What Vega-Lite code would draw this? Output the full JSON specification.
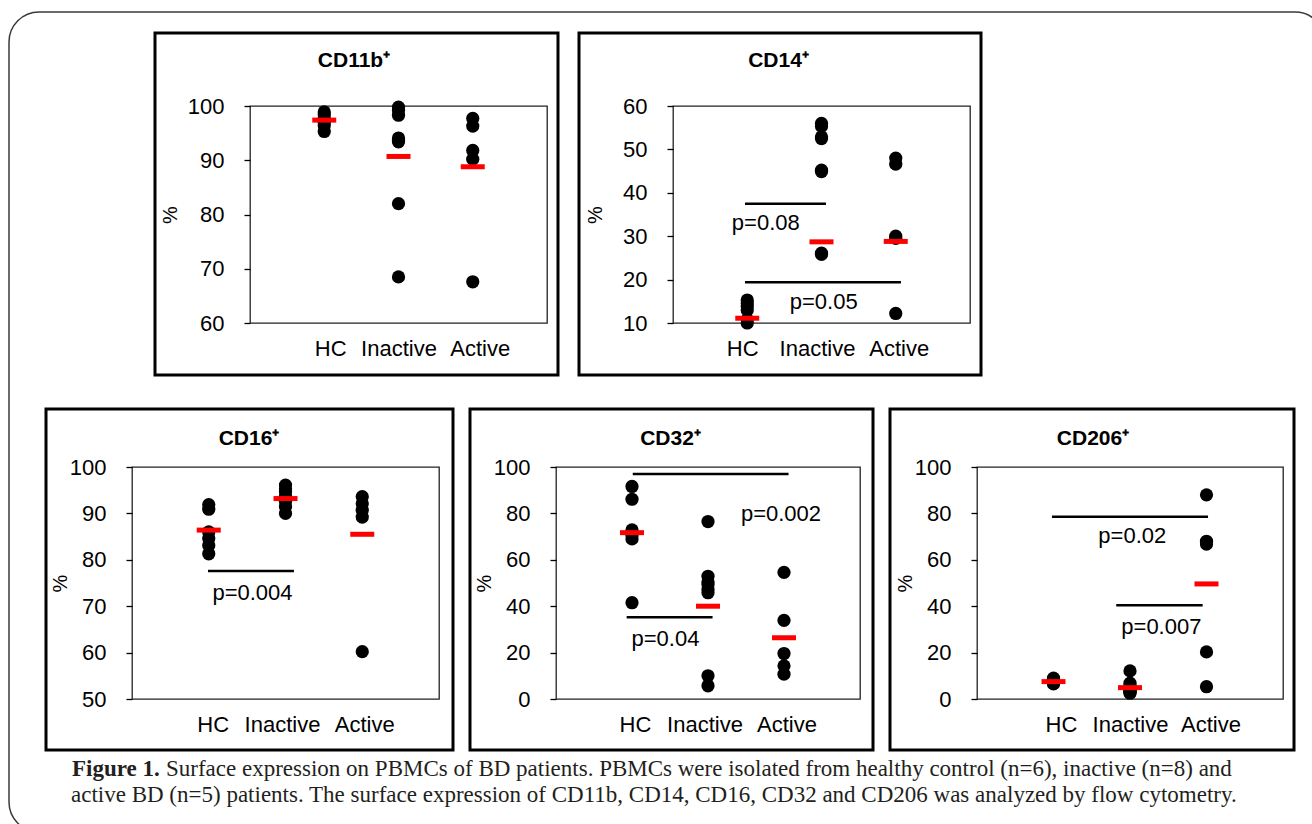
{
  "$schema": "https://vega.github.io/schema/vega-lite/v6.json",
  "background": "white",
  "padding": {"left": 8, "top": 11, "right": 0, "bottom": 0},
  "bounds": "flush",
  "spacing": 361,
  "datasets": {
    "points": [
      {"panel": "CD11b", "group": "HC", "g": 1, "value": 98.9},
      {"panel": "CD11b", "group": "HC", "g": 1, "value": 98.4},
      {"panel": "CD11b", "group": "HC", "g": 1, "value": 97.7},
      {"panel": "CD11b", "group": "HC", "g": 1, "value": 97.0},
      {"panel": "CD11b", "group": "HC", "g": 1, "value": 96.4},
      {"panel": "CD11b", "group": "HC", "g": 1, "value": 95.3},
      {"panel": "CD11b", "group": "Inactive", "g": 2, "value": 99.8},
      {"panel": "CD11b", "group": "Inactive", "g": 2, "value": 99.2},
      {"panel": "CD11b", "group": "Inactive", "g": 2, "value": 98.3},
      {"panel": "CD11b", "group": "Inactive", "g": 2, "value": 94.1},
      {"panel": "CD11b", "group": "Inactive", "g": 2, "value": 93.7},
      {"panel": "CD11b", "group": "Inactive", "g": 2, "value": 93.4},
      {"panel": "CD11b", "group": "Inactive", "g": 2, "value": 82.0},
      {"panel": "CD11b", "group": "Inactive", "g": 2, "value": 68.5},
      {"panel": "CD11b", "group": "Active", "g": 3, "value": 97.7},
      {"panel": "CD11b", "group": "Active", "g": 3, "value": 96.3},
      {"panel": "CD11b", "group": "Active", "g": 3, "value": 91.8},
      {"panel": "CD11b", "group": "Active", "g": 3, "value": 90.2},
      {"panel": "CD11b", "group": "Active", "g": 3, "value": 67.6},
      {"panel": "CD14", "group": "HC", "g": 1, "value": 15.3},
      {"panel": "CD14", "group": "HC", "g": 1, "value": 14.6},
      {"panel": "CD14", "group": "HC", "g": 1, "value": 13.8},
      {"panel": "CD14", "group": "HC", "g": 1, "value": 13.0},
      {"panel": "CD14", "group": "HC", "g": 1, "value": 10.8},
      {"panel": "CD14", "group": "HC", "g": 1, "value": 10.0},
      {"panel": "CD14", "group": "Inactive", "g": 2, "value": 56.0},
      {"panel": "CD14", "group": "Inactive", "g": 2, "value": 55.3},
      {"panel": "CD14", "group": "Inactive", "g": 2, "value": 52.9},
      {"panel": "CD14", "group": "Inactive", "g": 2, "value": 52.5},
      {"panel": "CD14", "group": "Inactive", "g": 2, "value": 45.2},
      {"panel": "CD14", "group": "Inactive", "g": 2, "value": 44.9},
      {"panel": "CD14", "group": "Inactive", "g": 2, "value": 26.1},
      {"panel": "CD14", "group": "Inactive", "g": 2, "value": 25.8},
      {"panel": "CD14", "group": "Active", "g": 3, "value": 48.0},
      {"panel": "CD14", "group": "Active", "g": 3, "value": 46.6},
      {"panel": "CD14", "group": "Active", "g": 3, "value": 30.0},
      {"panel": "CD14", "group": "Active", "g": 3, "value": 29.5},
      {"panel": "CD14", "group": "Active", "g": 3, "value": 12.2},
      {"panel": "CD16", "group": "HC", "g": 1, "value": 91.9},
      {"panel": "CD16", "group": "HC", "g": 1, "value": 90.9},
      {"panel": "CD16", "group": "HC", "g": 1, "value": 86.0},
      {"panel": "CD16", "group": "HC", "g": 1, "value": 84.6},
      {"panel": "CD16", "group": "HC", "g": 1, "value": 83.1},
      {"panel": "CD16", "group": "HC", "g": 1, "value": 81.3},
      {"panel": "CD16", "group": "Inactive", "g": 2, "value": 96.1},
      {"panel": "CD16", "group": "Inactive", "g": 2, "value": 95.3},
      {"panel": "CD16", "group": "Inactive", "g": 2, "value": 94.7},
      {"panel": "CD16", "group": "Inactive", "g": 2, "value": 93.8},
      {"panel": "CD16", "group": "Inactive", "g": 2, "value": 93.2},
      {"panel": "CD16", "group": "Inactive", "g": 2, "value": 92.6},
      {"panel": "CD16", "group": "Inactive", "g": 2, "value": 91.5},
      {"panel": "CD16", "group": "Inactive", "g": 2, "value": 90.0},
      {"panel": "CD16", "group": "Active", "g": 3, "value": 93.6},
      {"panel": "CD16", "group": "Active", "g": 3, "value": 92.1},
      {"panel": "CD16", "group": "Active", "g": 3, "value": 90.7},
      {"panel": "CD16", "group": "Active", "g": 3, "value": 89.2},
      {"panel": "CD16", "group": "Active", "g": 3, "value": 60.2},
      {"panel": "CD32", "group": "HC", "g": 1, "value": 91.6},
      {"panel": "CD32", "group": "HC", "g": 1, "value": 86.1},
      {"panel": "CD32", "group": "HC", "g": 1, "value": 72.9},
      {"panel": "CD32", "group": "HC", "g": 1, "value": 70.5},
      {"panel": "CD32", "group": "HC", "g": 1, "value": 69.0},
      {"panel": "CD32", "group": "HC", "g": 1, "value": 41.5},
      {"panel": "CD32", "group": "Inactive", "g": 2, "value": 76.5},
      {"panel": "CD32", "group": "Inactive", "g": 2, "value": 52.9},
      {"panel": "CD32", "group": "Inactive", "g": 2, "value": 50.5},
      {"panel": "CD32", "group": "Inactive", "g": 2, "value": 49.4},
      {"panel": "CD32", "group": "Inactive", "g": 2, "value": 47.2},
      {"panel": "CD32", "group": "Inactive", "g": 2, "value": 45.8},
      {"panel": "CD32", "group": "Inactive", "g": 2, "value": 10.0},
      {"panel": "CD32", "group": "Inactive", "g": 2, "value": 5.7},
      {"panel": "CD32", "group": "Active", "g": 3, "value": 54.6},
      {"panel": "CD32", "group": "Active", "g": 3, "value": 33.9},
      {"panel": "CD32", "group": "Active", "g": 3, "value": 19.6},
      {"panel": "CD32", "group": "Active", "g": 3, "value": 14.3},
      {"panel": "CD32", "group": "Active", "g": 3, "value": 10.7},
      {"panel": "CD206", "group": "HC", "g": 1, "value": 9.0},
      {"panel": "CD206", "group": "HC", "g": 1, "value": 8.5},
      {"panel": "CD206", "group": "HC", "g": 1, "value": 8.0},
      {"panel": "CD206", "group": "HC", "g": 1, "value": 7.5},
      {"panel": "CD206", "group": "HC", "g": 1, "value": 7.0},
      {"panel": "CD206", "group": "HC", "g": 1, "value": 6.5},
      {"panel": "CD206", "group": "Inactive", "g": 2, "value": 12.1},
      {"panel": "CD206", "group": "Inactive", "g": 2, "value": 6.8},
      {"panel": "CD206", "group": "Inactive", "g": 2, "value": 5.5},
      {"panel": "CD206", "group": "Inactive", "g": 2, "value": 4.5},
      {"panel": "CD206", "group": "Inactive", "g": 2, "value": 3.8},
      {"panel": "CD206", "group": "Inactive", "g": 2, "value": 3.2},
      {"panel": "CD206", "group": "Inactive", "g": 2, "value": 2.9},
      {"panel": "CD206", "group": "Inactive", "g": 2, "value": 2.5},
      {"panel": "CD206", "group": "Active", "g": 3, "value": 88.0},
      {"panel": "CD206", "group": "Active", "g": 3, "value": 68.0},
      {"panel": "CD206", "group": "Active", "g": 3, "value": 66.8},
      {"panel": "CD206", "group": "Active", "g": 3, "value": 20.3},
      {"panel": "CD206", "group": "Active", "g": 3, "value": 5.3}
    ],
    "means": [
      {"panel": "CD11b", "group": "HC", "g": 1, "value": 97.4},
      {"panel": "CD11b", "group": "Inactive", "g": 2, "value": 90.7},
      {"panel": "CD11b", "group": "Active", "g": 3, "value": 88.8},
      {"panel": "CD14", "group": "HC", "g": 1, "value": 11.1},
      {"panel": "CD14", "group": "Inactive", "g": 2, "value": 28.7},
      {"panel": "CD14", "group": "Active", "g": 3, "value": 28.8},
      {"panel": "CD16", "group": "HC", "g": 1, "value": 86.4},
      {"panel": "CD16", "group": "Inactive", "g": 2, "value": 93.2},
      {"panel": "CD16", "group": "Active", "g": 3, "value": 85.5},
      {"panel": "CD32", "group": "HC", "g": 1, "value": 71.7},
      {"panel": "CD32", "group": "Inactive", "g": 2, "value": 40.0},
      {"panel": "CD32", "group": "Active", "g": 3, "value": 26.4},
      {"panel": "CD206", "group": "HC", "g": 1, "value": 7.5},
      {"panel": "CD206", "group": "Inactive", "g": 2, "value": 4.9},
      {"panel": "CD206", "group": "Active", "g": 3, "value": 49.6}
    ],
    "bars": [
      {"panel": "CD14", "x1": 0.97, "x2": 2.06, "y": 37.5},
      {"panel": "CD14", "x1": 0.97, "x2": 3.07, "y": 19.4},
      {"panel": "CD16", "x1": 0.99, "x2": 2.11, "y": 77.6},
      {"panel": "CD32", "x1": 1.01, "x2": 3.06, "y": 97.0},
      {"panel": "CD32", "x1": 0.93, "x2": 2.06, "y": 35.2},
      {"panel": "CD206", "x1": 0.98, "x2": 3.02, "y": 78.6},
      {"panel": "CD206", "x1": 1.82, "x2": 2.95, "y": 40.4}
    ],
    "labels": [
      {"panel": "CD14", "x": 1.25, "y": 33.1, "label": "p=0.08"},
      {"panel": "CD14", "x": 2.03, "y": 14.9, "label": "p=0.05"},
      {"panel": "CD16", "x": 1.57, "y": 72.8, "label": "p=0.004"},
      {"panel": "CD32", "x": 2.96, "y": 79.6, "label": "p=0.002"},
      {"panel": "CD32", "x": 1.44, "y": 25.7, "label": "p=0.04"},
      {"panel": "CD206", "x": 2.03, "y": 70.4, "label": "p=0.02"},
      {"panel": "CD206", "x": 2.41, "y": 31.2, "label": "p=0.007"}
    ]
  },
  "vconcat": [
    {
      "bounds": "full",
      "spacing": 15,
      "hconcat": [
        {"width": 5, "height": 10, "data": {"values": []}, "mark": "point"},
        {
          "width": 297, "height": 217,
          "view": {"stroke": "#222", "strokeWidth": 1.3},
          "title": {"text": "CD11b⁺", "dx": -44.5, "offset": -39.5},
          "layer": [
            {"data": {"values": [{}]},
             "mark": {"type": "rect", "fill": "transparent", "stroke": "#000", "strokeWidth": 3},
             "encoding": {
               "x": {"datum": -1.2795, "type": "quantitative", "scale": {"domain": [0, 4], "nice": false, "zero": false},
                     "axis": {"values": [1, 2, 3], "labelExpr": "datum.value == 1 ? 'HC' : datum.value == 2 ? 'Inactive' : 'Active'", "title": null,
                              "labelOffset": {"condition": [{"test": "datum.value == 1", "value": 6}, {"test": "datum.value == 3", "value": 7}], "value": 0}}},
               "x2": {"datum": 4.1481},
               "y": {"datum": 113.456, "type": "quantitative", "scale": {"domain": [60, 100], "nice": false, "zero": false},
                     "axis": {"values": [60, 70, 80, 90, 100], "title": "%", "titleX": -80, "titleY": 108.5}},
               "y2": {"datum": 50.415}}},
            {"data": {"name": "points"}, "transform": [{"filter": "datum.panel === 'CD11b'"}],
             "mark": {"type": "circle", "size": 175, "color": "#000", "opacity": 1},
             "encoding": {"x": {"field": "g", "type": "quantitative"}, "y": {"field": "value", "type": "quantitative"}}},
            {"data": {"name": "means"}, "transform": [{"filter": "datum.panel === 'CD11b'"}],
             "mark": {"type": "tick", "orient": "horizontal", "size": 24, "thickness": 5, "color": "#ff0000", "opacity": 1},
             "encoding": {"x": {"field": "g", "type": "quantitative"}, "y": {"field": "value", "type": "quantitative"}}}
          ]
        },
        {
          "width": 297, "height": 217,
          "view": {"stroke": "#222", "strokeWidth": 1.3},
          "title": {"text": "CD14⁺", "dx": -43, "offset": -39.5},
          "layer": [
            {"data": {"values": [{}]},
             "mark": {"type": "rect", "fill": "transparent", "stroke": "#000", "strokeWidth": 3},
             "encoding": {
               "x": {"datum": -1.266, "type": "quantitative", "scale": {"domain": [0, 4], "nice": false, "zero": false},
                     "axis": {"values": [1, 2, 3], "labelExpr": "datum.value == 1 ? 'HC' : datum.value == 2 ? 'Inactive' : 'Active'", "title": null,
                              "labelOffset": {"condition": [{"test": "datum.value == 1", "value": -5}, {"test": "datum.value == 2", "value": -4.5}], "value": 3}}},
               "x2": {"datum": 4.1481},
               "y": {"datum": 76.82, "type": "quantitative", "scale": {"domain": [10, 60], "nice": false, "zero": false},
                     "axis": {"values": [10, 20, 30, 40, 50, 60], "title": "%", "titleX": -78, "titleY": 108.5}},
               "y2": {"datum": -1.982}}},
            {"data": {"name": "points"}, "transform": [{"filter": "datum.panel === 'CD14'"}],
             "mark": {"type": "circle", "size": 175, "color": "#000", "opacity": 1},
             "encoding": {"x": {"field": "g", "type": "quantitative"}, "y": {"field": "value", "type": "quantitative"}}},
            {"data": {"name": "means"}, "transform": [{"filter": "datum.panel === 'CD14'"}],
             "mark": {"type": "tick", "orient": "horizontal", "size": 24, "thickness": 5, "color": "#ff0000", "opacity": 1},
             "encoding": {"x": {"field": "g", "type": "quantitative"}, "y": {"field": "value", "type": "quantitative"}}},
            {"data": {"name": "bars"}, "transform": [{"filter": "datum.panel === 'CD14'"}],
             "mark": {"type": "rule", "strokeWidth": 2.5, "color": "#000"},
             "encoding": {"x": {"field": "x1", "type": "quantitative"}, "x2": {"field": "x2"}, "y": {"field": "y", "type": "quantitative"}}},
            {"data": {"name": "labels"}, "transform": [{"filter": "datum.panel === 'CD14'"}],
             "mark": {"type": "text", "font": "Liberation Sans", "fontSize": 22, "color": "#000", "align": "center", "baseline": "middle"},
             "encoding": {"x": {"field": "x", "type": "quantitative"}, "y": {"field": "y", "type": "quantitative"}, "text": {"field": "label"}}}
          ]
        }
      ]
    },
    {
      "bounds": "full",
      "spacing": 11,
      "hconcat": [
        {
          "width": 307, "height": 232,
          "view": {"stroke": "#222", "strokeWidth": 1.3},
          "title": {"text": "CD16⁺", "dx": -36.5, "offset": -41},
          "layer": [
            {"data": {"values": [{}]},
             "mark": {"type": "rect", "fill": "transparent", "stroke": "#000", "strokeWidth": 3},
             "encoding": {
               "x": {"datum": -1.1205, "type": "quantitative", "scale": {"domain": [0, 4], "nice": false, "zero": false},
                     "axis": {"values": [1, 2, 3], "labelExpr": "datum.value == 1 ? 'HC' : datum.value == 2 ? 'Inactive' : 'Active'", "title": null,
                              "labelOffset": {"condition": [{"test": "datum.value == 1", "value": 4}, {"test": "datum.value == 2", "value": -3.5}], "value": 2}}},
               "x2": {"datum": 4.1824},
               "y": {"datum": 112.5, "type": "quantitative", "scale": {"domain": [50, 100], "nice": false, "zero": false},
                     "axis": {"values": [50, 60, 70, 80, 90, 100], "title": "%", "titleX": -72, "titleY": 116}},
               "y2": {"datum": 39.009}}},
            {"data": {"name": "points"}, "transform": [{"filter": "datum.panel === 'CD16'"}],
             "mark": {"type": "circle", "size": 175, "color": "#000", "opacity": 1},
             "encoding": {"x": {"field": "g", "type": "quantitative"}, "y": {"field": "value", "type": "quantitative"}}},
            {"data": {"name": "means"}, "transform": [{"filter": "datum.panel === 'CD16'"}],
             "mark": {"type": "tick", "orient": "horizontal", "size": 24, "thickness": 5, "color": "#ff0000", "opacity": 1},
             "encoding": {"x": {"field": "g", "type": "quantitative"}, "y": {"field": "value", "type": "quantitative"}}},
            {"data": {"name": "bars"}, "transform": [{"filter": "datum.panel === 'CD16'"}],
             "mark": {"type": "rule", "strokeWidth": 2.5, "color": "#000"},
             "encoding": {"x": {"field": "x1", "type": "quantitative"}, "x2": {"field": "x2"}, "y": {"field": "y", "type": "quantitative"}}},
            {"data": {"name": "labels"}, "transform": [{"filter": "datum.panel === 'CD16'"}],
             "mark": {"type": "text", "font": "Liberation Sans", "fontSize": 22, "color": "#000", "align": "center", "baseline": "middle"},
             "encoding": {"x": {"field": "x", "type": "quantitative"}, "y": {"field": "y", "type": "quantitative"}, "text": {"field": "label"}}}
          ]
        },
        {
          "width": 304, "height": 232,
          "view": {"stroke": "#222", "strokeWidth": 1.3},
          "title": {"text": "CD32⁺", "dx": -37.5, "offset": -41},
          "layer": [
            {"data": {"values": [{}]},
             "mark": {"type": "rect", "fill": "transparent", "stroke": "#000", "strokeWidth": 3},
             "encoding": {
               "x": {"datum": -1.1316, "type": "quantitative", "scale": {"domain": [0, 4], "nice": false, "zero": false},
                     "axis": {"values": [1, 2, 3], "labelExpr": "datum.value == 1 ? 'HC' : datum.value == 2 ? 'Inactive' : 'Active'", "title": null,
                              "labelOffset": {"condition": [{"test": "datum.value == 1", "value": 3}, {"test": "datum.value == 2", "value": -3.5}], "value": 2.5}}},
               "x2": {"datum": 4.1711},
               "y": {"datum": 125, "type": "quantitative", "scale": {"domain": [0, 100], "nice": false, "zero": false},
                     "axis": {"values": [0, 20, 40, 60, 80, 100], "title": "%", "titleX": -72, "titleY": 116}},
               "y2": {"datum": -21.983}}},
            {"data": {"name": "points"}, "transform": [{"filter": "datum.panel === 'CD32'"}],
             "mark": {"type": "circle", "size": 175, "color": "#000", "opacity": 1},
             "encoding": {"x": {"field": "g", "type": "quantitative"}, "y": {"field": "value", "type": "quantitative"}}},
            {"data": {"name": "means"}, "transform": [{"filter": "datum.panel === 'CD32'"}],
             "mark": {"type": "tick", "orient": "horizontal", "size": 24, "thickness": 5, "color": "#ff0000", "opacity": 1},
             "encoding": {"x": {"field": "g", "type": "quantitative"}, "y": {"field": "value", "type": "quantitative"}}},
            {"data": {"name": "bars"}, "transform": [{"filter": "datum.panel === 'CD32'"}],
             "mark": {"type": "rule", "strokeWidth": 2.5, "color": "#000"},
             "encoding": {"x": {"field": "x1", "type": "quantitative"}, "x2": {"field": "x2"}, "y": {"field": "y", "type": "quantitative"}}},
            {"data": {"name": "labels"}, "transform": [{"filter": "datum.panel === 'CD32'"}],
             "mark": {"type": "text", "font": "Liberation Sans", "fontSize": 22, "color": "#000", "align": "center", "baseline": "middle"},
             "encoding": {"x": {"field": "x", "type": "quantitative"}, "y": {"field": "y", "type": "quantitative"}, "text": {"field": "label"}}}
          ]
        },
        {
          "width": 306, "height": 232,
          "view": {"stroke": "#222", "strokeWidth": 1.3},
          "title": {"text": "CD206⁺", "dx": -37, "offset": -41},
          "layer": [
            {"data": {"values": [{}]},
             "mark": {"type": "rect", "fill": "transparent", "stroke": "#000", "strokeWidth": 3},
             "encoding": {
               "x": {"datum": -1.1373, "type": "quantitative", "scale": {"domain": [0, 4], "nice": false, "zero": false},
                     "axis": {"values": [1, 2, 3], "labelExpr": "datum.value == 1 ? 'HC' : datum.value == 2 ? 'Inactive' : 'Active'", "title": null,
                              "labelOffset": {"condition": [{"test": "datum.value == 1", "value": 7.5}, {"test": "datum.value == 3", "value": 4}], "value": 0}}},
               "x2": {"datum": 4.1438},
               "y": {"datum": 125, "type": "quantitative", "scale": {"domain": [0, 100], "nice": false, "zero": false},
                     "axis": {"values": [0, 20, 40, 60, 80, 100], "title": "%", "titleX": -72, "titleY": 116}},
               "y2": {"datum": -21.983}}},
            {"data": {"name": "points"}, "transform": [{"filter": "datum.panel === 'CD206'"}],
             "mark": {"type": "circle", "size": 175, "color": "#000", "opacity": 1},
             "encoding": {"x": {"field": "g", "type": "quantitative"}, "y": {"field": "value", "type": "quantitative"}}},
            {"data": {"name": "means"}, "transform": [{"filter": "datum.panel === 'CD206'"}],
             "mark": {"type": "tick", "orient": "horizontal", "size": 24, "thickness": 5, "color": "#ff0000", "opacity": 1},
             "encoding": {"x": {"field": "g", "type": "quantitative"}, "y": {"field": "value", "type": "quantitative"}}},
            {"data": {"name": "bars"}, "transform": [{"filter": "datum.panel === 'CD206'"}],
             "mark": {"type": "rule", "strokeWidth": 2.5, "color": "#000"},
             "encoding": {"x": {"field": "x1", "type": "quantitative"}, "x2": {"field": "x2"}, "y": {"field": "y", "type": "quantitative"}}},
            {"data": {"name": "labels"}, "transform": [{"filter": "datum.panel === 'CD206'"}],
             "mark": {"type": "text", "font": "Liberation Sans", "fontSize": 22, "color": "#000", "align": "center", "baseline": "middle"},
             "encoding": {"x": {"field": "x", "type": "quantitative"}, "y": {"field": "y", "type": "quantitative"}, "text": {"field": "label"}}}
          ]
        }
      ]
    },
    {
      "width": 1151, "height": 10,
      "data": {"values": [{}]},
      "layer": [
        {"mark": {"type": "rect", "fill": "transparent", "stroke": "#3a3a3a", "strokeWidth": 1.5, "cornerRadius": 30},
         "encoding": {
           "x": {"datum": 9, "type": "quantitative", "scale": {"domain": [132, 1283], "nice": false, "zero": false}, "axis": null},
           "x2": {"datum": 1325},
           "y": {"datum": 12, "type": "quantitative", "scale": {"domain": [828, 838], "nice": false, "zero": false, "reverse": true}, "axis": null},
           "y2": {"datum": 832}}},
        {"mark": {"type": "text", "text": "Figure 1.", "font": "Liberation Serif", "fontSize": 23, "fontWeight": "bold", "align": "left", "baseline": "alphabetic", "color": "#231f20"},
         "encoding": {"x": {"datum": 72, "type": "quantitative", "axis": null}, "y": {"datum": 776, "type": "quantitative", "axis": null}}},
        {"mark": {"type": "text", "text": "Surface expression on PBMCs of BD patients. PBMCs were isolated from healthy control (n=6), inactive (n=8) and", "font": "Liberation Serif", "fontSize": 23, "align": "left", "baseline": "alphabetic", "color": "#231f20"},
         "encoding": {"x": {"datum": 166, "type": "quantitative", "axis": null}, "y": {"datum": 776, "type": "quantitative", "axis": null}}},
        {"mark": {"type": "text", "text": "active BD (n=5) patients. The surface expression of CD11b, CD14, CD16, CD32 and CD206 was analyzed by flow cytometry.", "font": "Liberation Serif", "fontSize": 23, "align": "left", "baseline": "alphabetic", "color": "#231f20"},
         "encoding": {"x": {"datum": 71, "type": "quantitative", "axis": null}, "y": {"datum": 802, "type": "quantitative", "axis": null}}}
      ]
    }
  ],
  "config": {
    "view": {"stroke": null},
    "font": "Liberation Sans",
    "axis": {"grid": false, "domain": false, "labelFont": "Liberation Sans", "labelFontSize": 22, "labelColor": "#000", "labelFlush": false, "labelOverlap": false, "labelBound": false, "titleFont": "Liberation Sans", "titleFontSize": 20, "titleFontWeight": "normal", "titleColor": "#000"},
    "axisX": {"ticks": false, "tickSize": 0, "labelPadding": 15, "labelAngle": 0},
    "axisY": {"ticks": true, "tickSize": 6, "tickColor": "#000", "tickWidth": 1.3, "labelPadding": 20, "titleAngle": -90, "titleAlign": "center", "titleBaseline": "middle"},
    "title": {"font": "Liberation Sans", "fontSize": 21, "fontWeight": "bold", "color": "#000", "anchor": "middle", "frame": "group", "baseline": "alphabetic"}
  }
}
